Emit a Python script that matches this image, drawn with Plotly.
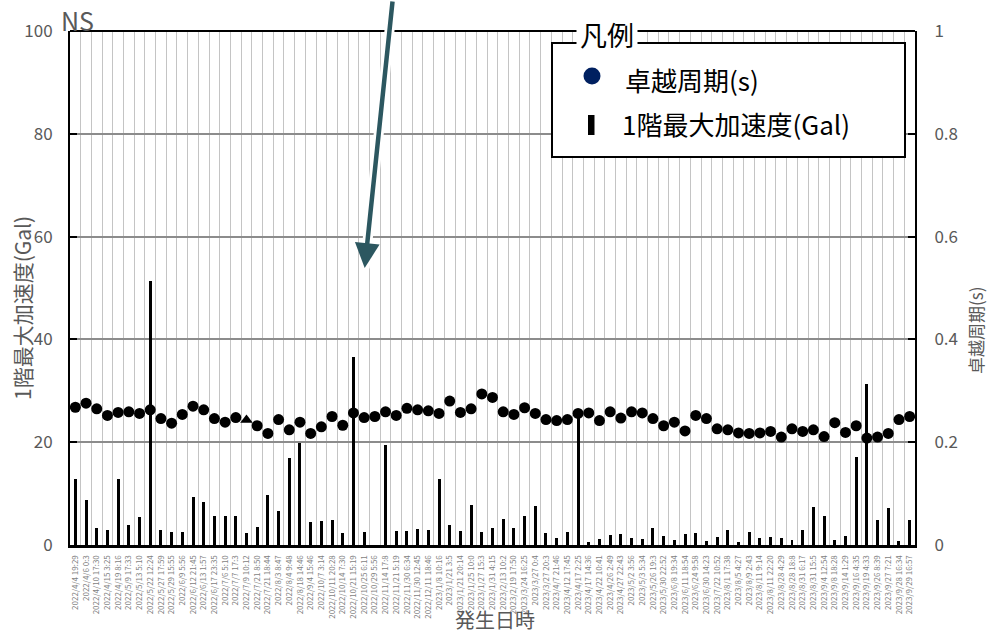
import plotly.graph_objects as go

# Event timestamps (category axis)
dates = [
    "2022/4/4 19:29", "2022/4/6 0:3", "2022/4/10 17:30", "2022/4/15 3:25", "2022/4/19 8:16",
    "2022/5/9 17:33", "2022/5/13 5:10", "2022/5/22 12:24", "2022/5/27 17:59", "2022/5/29 15:55",
    "2022/6/9 5:56", "2022/6/12 21:45", "2022/6/13 1:57", "2022/6/17 23:35", "2022/7/6 5:10",
    "2022/7/7 17:3", "2022/7/9 10:12", "2022/7/21 8:50", "2022/7/21 18:44", "2022/8/3 8:47",
    "2022/8/4 9:48", "2022/8/18 14:46", "2022/9/4 15:46", "2022/10/7 3:14", "2022/10/11 20:28",
    "2022/10/14 7:30", "2022/10/21 15:19", "2022/10/25 6:11", "2022/10/29 5:56", "2022/11/14 17:8",
    "2022/11/21 5:19", "2022/11/30 6:34", "2022/11/30 12:45", "2022/12/11 18:46", "2023/1/8 10:16",
    "2023/1/21 3:5", "2023/1/21 20:14", "2023/1/25 10:0", "2023/1/27 15:3", "2023/1/31 4:15",
    "2023/2/13 10:2", "2023/2/19 17:50", "2023/3/24 16:25", "2023/3/27 0:4", "2023/3/27 20:3",
    "2023/4/7 21:46", "2023/4/12 17:45", "2023/4/17 2:25", "2023/4/17 14:36", "2023/4/22 10:41",
    "2023/4/26 2:49", "2023/4/27 22:43", "2023/5/2 3:56", "2023/5/3 5:34", "2023/5/26 19:3",
    "2023/5/30 22:52", "2023/6/8 19:34", "2023/6/11 18:54", "2023/6/24 9:58", "2023/6/30 14:23",
    "2023/7/22 10:52", "2023/8/1 17:38", "2023/8/5 4:27", "2023/8/9 2:43", "2023/8/11 9:14",
    "2023/8/11 22:20", "2023/8/28 4:29", "2023/8/28 18:8", "2023/8/31 6:17", "2023/8/31 15:5",
    "2023/9/4 12:54", "2023/9/8 18:28", "2023/9/14 1:29", "2023/9/16 4:35", "2023/9/19 4:33",
    "2023/9/26 8:39", "2023/9/27 7:21", "2023/9/28 16:34", "2023/9/29 16:57",
]

# 1st floor peak acceleration (Gal)
accel_gal = [
    12.8, 8.8, 3.3, 3.0, 12.8, 3.8, 5.5, 51.4, 2.9, 2.6,
    2.5, 9.3, 8.4, 5.6, 5.6, 5.7, 2.3, 3.6, 9.8, 6.7,
    16.9, 19.9, 4.5, 4.6, 4.8, 2.3, 36.6, 2.5, None, 19.4,
    2.7, 2.8, 3.2, 3.0, 12.8, 3.8, 2.8, 7.8, 2.5, 3.4,
    5.0, 3.3, 5.6, 7.6, 2.3, 1.4, 2.5, 25.9, 0.5, 1.2,
    1.9, 2.1, 1.4, 1.2, 3.4, 1.75, 1.0, 2.1, 2.3, 0.8,
    1.6, 2.9, 0.6, 2.5, 1.4, 1.6, 1.4, 1.0, 3.0, 7.4,
    5.6, 1.0, 1.8, 17.2, 31.3, 4.8, 7.2, 0.8, 4.9,
]

# Predominant period (s)
period_s = [
    0.268, 0.276, 0.265, 0.252, 0.258, 0.259, 0.256, 0.263, 0.246, 0.237,
    0.254, 0.270, 0.263, 0.246, 0.239, 0.248, 0.243, 0.232, 0.217, 0.244,
    0.224, 0.239, 0.217, 0.230, 0.250, 0.233, 0.257, 0.248, 0.250, 0.259,
    0.252, 0.266, 0.263, 0.261, 0.256, 0.280, 0.258, 0.265, 0.294, 0.287,
    0.259, 0.254, 0.267, 0.256, 0.244, 0.242, 0.244, 0.256, 0.257, 0.242,
    0.259, 0.247, 0.259, 0.257, 0.246, 0.232, 0.239, 0.222, 0.252, 0.246,
    0.226, 0.224, 0.218, 0.217, 0.218, 0.221, 0.210, 0.226, 0.221, 0.224,
    0.211, 0.238, 0.219, 0.232, 0.208, 0.210, 0.217, 0.244, 0.250,
]

# One event is plotted with a triangle marker
marker_symbols = ["circle"] * len(dates)
marker_symbols[16] = "triangle-up"

FONT = "Noto Sans CJK JP, Noto Sans, sans-serif"
GRAY = "#595959"

W, H = 989, 633
L, R, T, B = 70, 74, 31, 88
PW, PH = W - L - R, H - T - B


def px_x(px):
    return (px - L) / PW


def px_y(py):
    return (H - B - py) / PH


fig = go.Figure()

fig.add_trace(go.Bar(
    x=dates, y=accel_gal, name="1階最大加速度(Gal)",
    marker=dict(color="black", line=dict(width=0)),
    width=0.28, yaxis="y", showlegend=False,
))

fig.add_trace(go.Scatter(
    x=dates, y=period_s, name="卓越周期(s)", mode="markers",
    marker=dict(color="black", size=11, symbol=marker_symbols, line=dict(width=0)),
    yaxis="y2", showlegend=False,
))

shapes = [
    # top border of the plot area
    dict(type="line", xref="paper", yref="paper", x0=0, x1=1, y0=1, y1=1,
         line=dict(color="black", width=2)),
    # legend frame
    dict(type="rect", xref="paper", yref="paper",
         x0=px_x(552), x1=px_x(905), y0=px_y(157), y1=px_y(43),
         fillcolor="white", line=dict(color="black", width=2), layer="above"),
    # legend swatch: period marker
    dict(type="circle", xref="paper", yref="paper",
         x0=px_x(583.5), x1=px_x(600.5), y0=px_y(84.5), y1=px_y(67.5),
         fillcolor="#002060", line=dict(width=0), layer="above"),
    # legend swatch: acceleration bar
    dict(type="rect", xref="paper", yref="paper",
         x0=px_x(588), x1=px_x(594.5), y0=px_y(135), y1=px_y(115),
         fillcolor="black", line=dict(width=0), layer="above"),
]

annotations = [
    # pointer arrow: white halo beneath, teal arrow on top
    dict(x=27.05, y=53.9, xref="x", yref="y", ax=28, ay=-270, text="",
         showarrow=True, arrowhead=0, arrowwidth=10, arrowcolor="white"),
    dict(x=27.05, y=53.9, xref="x", yref="y", ax=28, ay=-270, text="",
         showarrow=True, arrowhead=2, arrowsize=1.1, arrowwidth=4.5,
         arrowcolor="#2C5760"),
    dict(x=px_x(59), y=px_y(20), xref="paper", yref="paper", text="NS",
         showarrow=False, xanchor="left", yanchor="middle",
         font=dict(family=FONT, size=25, color=GRAY)),
    dict(x=px_x(607), y=px_y(35), xref="paper", yref="paper", text="凡例",
         showarrow=False, xanchor="center", yanchor="middle", bgcolor="white",
         borderpad=3, font=dict(family=FONT, size=27, color="black")),
    dict(x=px_x(623), y=px_y(79), xref="paper", yref="paper", text="卓越周期(s)",
         showarrow=False, xanchor="left", yanchor="middle",
         font=dict(family=FONT, size=26, color="black")),
    dict(x=px_x(620), y=px_y(123), xref="paper", yref="paper", text="1階最大加速度(Gal)",
         showarrow=False, xanchor="left", yanchor="middle",
         font=dict(family=FONT, size=26, color="black")),
    dict(x=px_x(22), y=px_y(308), xref="paper", yref="paper", text="1階最大加速度(Gal)",
         showarrow=False, textangle=-90, xanchor="center", yanchor="middle",
         font=dict(family=FONT, size=21, color=GRAY)),
    dict(x=px_x(976), y=px_y(331), xref="paper", yref="paper", text="卓越周期(s)",
         showarrow=False, textangle=-90, xanchor="center", yanchor="middle",
         font=dict(family=FONT, size=17, color=GRAY)),
    dict(x=px_x(495), y=px_y(619), xref="paper", yref="paper", text="発生日時",
         showarrow=False, xanchor="center", yanchor="middle",
         font=dict(family=FONT, size=20, color=GRAY)),
]

fig.update_layout(
    width=W, height=H, autosize=False,
    margin=dict(l=L, r=R, t=T, b=B, pad=0),
    paper_bgcolor="white", plot_bgcolor="white",
    font=dict(family=FONT, color=GRAY),
    bargap=0,
    xaxis=dict(
        type="category", categoryorder="array", categoryarray=dates,
        tickmode="linear", tick0=0, dtick=1, tickson="boundaries",
        tickangle=-90, tickfont=dict(family=FONT, size=8, color="#7f7f7f"),
        ticks="", ticklabelstandoff=4,
        showgrid=True, gridcolor="#c4c4c4", gridwidth=1,
        showline=True, linecolor="black", linewidth=3,
        range=[-0.5, len(dates) - 0.5], fixedrange=True,
    ),
    yaxis=dict(
        range=[0, 100], dtick=20, tick0=0,
        showgrid=True, gridcolor="#8c8c8c", gridwidth=1.5, zeroline=False,
        showline=True, linecolor="black", linewidth=2,
        ticks="inside", ticklen=7, tickwidth=2, tickcolor="black",
        tickfont=dict(family=FONT, size=17, color=GRAY), ticklabelstandoff=12,
    ),
    yaxis2=dict(
        range=[0, 1], dtick=0.2, tick0=0, overlaying="y", side="right",
        showgrid=False, zeroline=False,
        showline=True, linecolor="black", linewidth=2,
        ticks="inside", ticklen=7, tickwidth=2, tickcolor="black",
        tickfont=dict(family=FONT, size=17, color=GRAY), ticklabelstandoff=14,
    ),
    shapes=shapes,
    annotations=annotations,
)

fig.write_html("out.html")
